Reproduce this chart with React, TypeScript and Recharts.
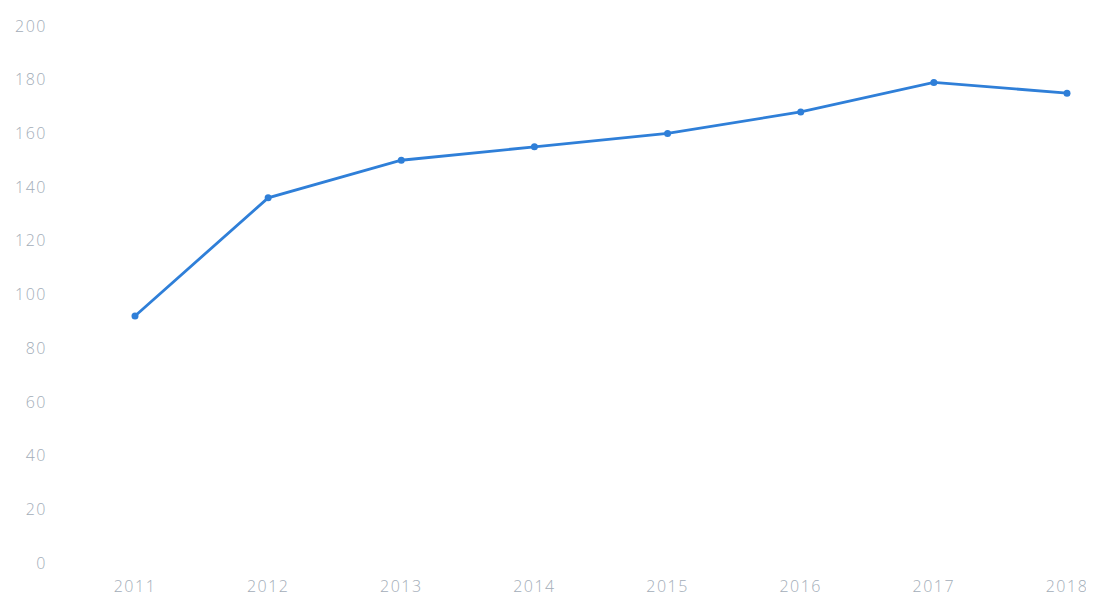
import { LineChart, Line, XAxis, YAxis } from "recharts";

const years = ["2011", "2012", "2013", "2014", "2015", "2016", "2017", "2018"];
const values = [92, 136, 150, 155, 160, 168, 179, 175];
const yTicks = [0, 20, 40, 60, 80, 100, 120, 140, 160, 180, 200];

const data = years.map((year, i) => ({ year, value: values[i] }));

const tickStyle = {
  fill: "#a3adb8",
  fontSize: 16,
  letterSpacing: 1.5,
  fontFamily: "'Open Sans', sans-serif",
  fontWeight: 300,
};

export default function App() {
  return (
    <div style={{ width: 1086, height: 592, background: "#fff" }}>
      <LineChart
        width={1086}
        height={592}
        data={data}
        margin={{ top: 18, right: 27, left: 0, bottom: 0 }}
      >
        <XAxis
          dataKey="year"
          axisLine={false}
          tickLine={false}
          tickSize={0}
          tickMargin={18}
          height={37}
          tick={tickStyle}
          interval={0}
        />
        <YAxis
          domain={[0, 200]}
          ticks={yTicks}
          axisLine={false}
          tickLine={false}
          tickSize={0}
          tickMargin={88}
          width={127}
          tick={tickStyle}
          interval={0}
        />
        <Line
          type="linear"
          dataKey="value"
          stroke="#2f7fd8"
          strokeWidth={2.8}
          dot={{ r: 3.5, fill: "#2f7fd8", stroke: "#2f7fd8", strokeWidth: 0 }}
          isAnimationActive={false}
        />
      </LineChart>
    </div>
  );
}
